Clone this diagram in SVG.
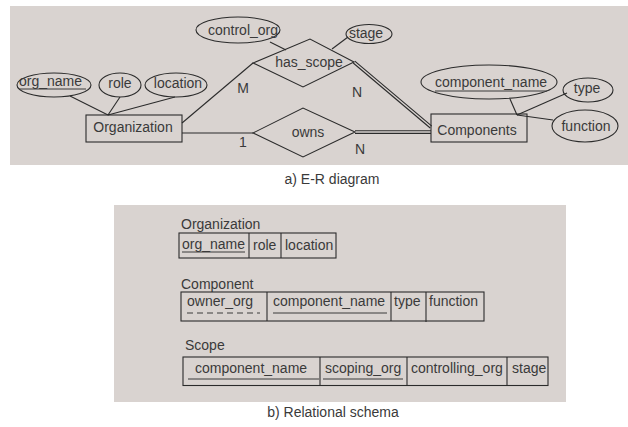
<svg xmlns="http://www.w3.org/2000/svg" width="628" height="427" viewBox="0 0 628 427">
<style>
text{font-family:"Liberation Sans",Arial,Helvetica,sans-serif;font-size:14px;fill:#3a3a3a}
.s{fill:none;stroke:#2b2b2b;stroke-width:1.1}
.bg{fill:#d9d3d0}
.u{stroke:#3a3a3a;stroke-width:1}
.m{text-anchor:middle}
</style>
<rect class="bg" x="10" y="6" width="618" height="159"/>
<rect class="bg" x="114" y="205" width="452" height="197"/>
<g id="connectors" class="s">
<line x1="70" y1="96" x2="108" y2="115"/>
<line x1="120" y1="97" x2="108" y2="115"/>
<line x1="175" y1="97" x2="108" y2="115"/>
<line x1="182" y1="123" x2="253" y2="63"/>
<line x1="182" y1="133" x2="253" y2="133"/>
<line x1="270" y1="42" x2="286" y2="50"/>
<line x1="348" y1="37" x2="332" y2="49"/>
<line x1="353.2" y1="63" x2="430.2" y2="128"/>
<line x1="354.8" y1="61.1" x2="431.8" y2="126.1"/>
<line x1="355" y1="130.8" x2="431" y2="130.8"/>
<line x1="355" y1="133.4" x2="431" y2="133.4"/>
<line x1="510" y1="99" x2="517" y2="115"/>
<line x1="517" y1="115" x2="567" y2="93"/>
<line x1="517" y1="115" x2="553" y2="120"/>
</g>
<g id="org_name"><ellipse class="s" cx="54" cy="85" rx="37" ry="12"/><text x="19" y="86">org_name</text><line class="u" x1="19" y1="89" x2="86" y2="89"/></g>
<g id="role"><ellipse class="s" cx="120" cy="85" rx="21" ry="12"/><text x="120" y="88" class="m">role</text></g>
<g id="location"><ellipse class="s" cx="176" cy="85" rx="31" ry="12"/><text x="178" y="88" class="m">location</text></g>
<g id="Organization"><rect class="s" x="86" y="115" width="96" height="27"/><text x="133" y="132" class="m">Organization</text></g>
<g id="control_org"><ellipse class="s" cx="238" cy="30" rx="42" ry="13"/><text x="243" y="35" class="m">control_org</text></g>
<g id="stage"><ellipse class="s" cx="369" cy="34" rx="23" ry="9.5"/><text x="366" y="38" class="m">stage</text></g>
<g id="has_scope"><polygon class="s" points="253,63 310,39 354,62 303,87"/><text x="309" y="67" class="m">has_scope</text></g>
<g id="owns"><polygon class="s" points="253,133 303,108 355,132 303,157"/><text x="308" y="137" class="m">owns</text></g>
<g id="Components"><rect class="s" x="431" y="114" width="96" height="28"/><text x="477" y="135" class="m">Components</text></g>
<g id="component_name"><ellipse class="s" cx="489" cy="82" rx="68" ry="17"/><text x="435" y="87">component_name</text><line class="u" x1="435" y1="91" x2="547" y2="91"/></g>
<g id="type"><ellipse class="s" cx="588" cy="90" rx="25" ry="12"/><text x="587" y="93" class="m">type</text></g>
<g id="function"><ellipse class="s" cx="585" cy="126" rx="33" ry="16"/><text x="586" y="131" class="m">function</text></g>
<g id="labels">
<text x="243" y="93" class="m">M</text>
<text x="357" y="97" class="m">N</text>
<text x="243" y="147" class="m">1</text>
<text x="360" y="154" class="m">N</text>
<text x="332" y="184" class="m">a) E-R diagram</text>
<text x="333" y="417" class="m">b) Relational schema</text>
</g>
<g id="table_organization">
<text x="181" y="229">Organization</text>
<rect class="s" x="179" y="233" width="157" height="25"/>
<line class="s" x1="249" y1="233" x2="249" y2="258"/>
<line class="s" x1="281" y1="233" x2="281" y2="258"/>
<text x="182" y="249">org_name</text><line class="u" x1="182" y1="252" x2="245" y2="252"/>
<text x="253" y="250">role</text>
<text x="285" y="250">location</text>
</g>
<g id="table_component">
<text x="181" y="289">Component</text>
<rect class="s" x="181" y="292" width="303" height="29"/>
<line class="s" x1="267" y1="292" x2="267" y2="321"/>
<line class="s" x1="391" y1="292" x2="391" y2="321"/>
<line class="s" x1="426" y1="292" x2="426" y2="322"/>
<text x="187" y="306">owner_org</text><line class="u" x1="187" y1="313" x2="260" y2="313" stroke-dasharray="6,4"/>
<text x="273" y="306">component_name</text><line class="u" x1="273" y1="313" x2="387" y2="313"/>
<text x="394" y="306">type</text>
<text x="429" y="306">function</text>
</g>
<g id="table_scope">
<text x="185" y="350">Scope</text>
<rect class="s" x="183" y="357" width="365" height="28.5"/>
<line class="s" x1="320" y1="357" x2="320" y2="385.5"/>
<line class="s" x1="407" y1="357" x2="407" y2="385.5"/>
<line class="s" x1="507" y1="357" x2="507" y2="385.5"/>
<text x="195" y="373">component_name</text><line class="u" x1="188" y1="379" x2="319" y2="379"/>
<text x="325" y="373">scoping_org</text><line class="u" x1="323" y1="379" x2="403" y2="379"/>
<text x="411" y="373">controlling_org</text>
<text x="512" y="373">stage</text>
</g>
</svg>
